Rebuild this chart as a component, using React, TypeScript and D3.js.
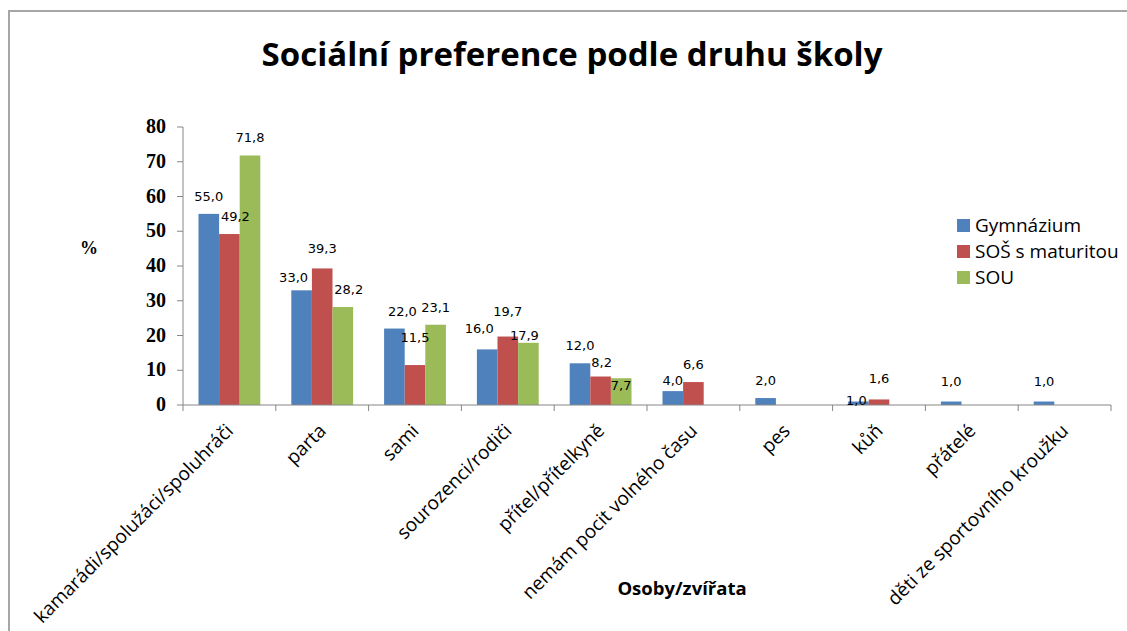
import React from "react";
import * as d3 from "d3";

const categories = [
  "kamarádi/spolužáci/spoluhráči",
  "parta",
  "sami",
  "sourozenci/rodiči",
  "přítel/přítelkyně",
  "nemám pocit volného času",
  "pes",
  "kůň",
  "přátelé",
  "děti ze sportovního kroužku",
];
const seriesNames = ["Gymnázium", "SOŠ s maturitou", "SOU"];
const gymnazium = [55.0, 33.0, 22.0, 16.0, 12.0, 4.0, 2.0, 1.0, 1.0, 1.0];
const sosMaturita: (number | null)[] = [49.2, 39.3, 11.5, 19.7, 8.2, 6.6, null, 1.6, null, null];
const sou: (number | null)[] = [71.8, 28.2, 23.1, 17.9, 7.7, null, null, null, null, null];
const yTicks = [0, 10, 20, 30, 40, 50, 60, 70, 80];
const colors = ["#4F81BD", "#C0504D", "#9BBB59"];

// label nudges (dx, dy) keyed "category index-series index" — mimic Excel's label placement
const labelNudge: Record<string, [number, number]> = {
  "0-1": [6, 0],
  "1-0": [-8, 5],
  "1-1": [0, -2],
  "1-2": [6, 0],
  "2-0": [8, 0],
  "2-1": [0, -10],
  "3-0": [-8, -3],
  "3-1": [0, -8],
  "3-2": [-4, 10],
  "4-1": [1, 3],
  "4-2": [0, 25],
  "5-0": [0, 7],
  "7-0": [-2, 16],
  "7-1": [0, -3],
  "8-0": [0, -3],
  "9-0": [0, -3],
};

const W = 1127;
const H = 631;
const left = 183;
const right = 1111;
const top = 127;
const bottom = 405;
const sans = "'Open Sans', Lato, sans-serif";

export default function App() {
  const x = d3.scaleBand<string>().domain(categories).range([left, right]).paddingInner(0).paddingOuter(0);
  const xs = d3
    .scaleBand<string>()
    .domain(seriesNames)
    .range([x.bandwidth() * 0.167, x.bandwidth() * 0.833])
    .padding(0);
  const y = d3.scaleLinear().domain([0, 80]).range([bottom, top]);
  const allSeries = [gymnazium, sosMaturita, sou];
  const fmt = (v: number) => v.toFixed(1).replace(".", ",");
  const axisColor = "#868686";

  return (
    <svg
      width={W}
      height={H}
      style={{ position: "absolute", left: 0, top: 0, background: "#fff" }}
      fontFamily={sans}
    >
      <rect x={0} y={0} width={W} height={H} fill="#fff" />
      <path d={`M9,${H} V11 H${W}`} fill="none" stroke="#a6a6a6" strokeWidth={2} />
      <text x={572} y={66} textAnchor="middle" fontSize={33} fontWeight={700} fill="#000">
        Sociální preference podle druhu školy
      </text>

      {/* y axis */}
      <line x1={left} x2={left} y1={top} y2={bottom} stroke={axisColor} />
      {yTicks.map((t) => (
        <g key={t}>
          <line x1={left - 6} x2={left} y1={y(t)} y2={y(t)} stroke={axisColor} />
          <text
            x={166}
            y={y(t) + 6}
            textAnchor="end"
            fontFamily="'Liberation Serif', serif"
            fontWeight={700}
            fontSize={20}
            fill="#000"
          >
            {t}
          </text>
        </g>
      ))}
      <text x={89} y={254} textAnchor="middle" fontFamily="'Liberation Serif', serif" fontWeight={700} fontSize={18}>
        %
      </text>

      {/* bars */}
      {categories.map((c, ci) => (
        <g key={c}>
          {allSeries.map((s, si) => {
            const v = s[ci];
            if (v == null) return null;
            const bx = (x(c) as number) + (xs(seriesNames[si]) as number);
            return (
              <rect
                key={si}
                x={bx}
                y={y(v)}
                width={xs.bandwidth()}
                height={bottom - y(v)}
                fill={colors[si]}
              />
            );
          })}
        </g>
      ))}

      {/* x axis */}
      <line x1={left} x2={right} y1={bottom} y2={bottom} stroke={axisColor} />
      {categories.map((c) => (
        <line
          key={c}
          x1={(x(c) as number) + x.bandwidth()}
          x2={(x(c) as number) + x.bandwidth()}
          y1={bottom}
          y2={bottom + 6}
          stroke={axisColor}
        />
      ))}
      <line x1={left} x2={left} y1={bottom} y2={bottom + 6} stroke={axisColor} />

      {/* data labels */}
      {categories.map((c, ci) =>
        allSeries.map((s, si) => {
          const v = s[ci];
          if (v == null) return null;
          const cx = (x(c) as number) + (xs(seriesNames[si]) as number) + xs.bandwidth() / 2;
          const n = labelNudge[`${ci}-${si}`] || [0, 0];
          return (
            <text
              key={`${ci}-${si}`}
              x={cx + n[0]}
              y={y(v) - 13 + n[1]}
              textAnchor="middle"
              fontFamily="'DejaVu Sans', Verdana, sans-serif"
              fontSize={13}
              fill="#000"
            >
              {fmt(v)}
            </text>
          );
        })
      )}

      {/* category labels */}
      {categories.map((c) => {
        const cx = (x(c) as number) + x.bandwidth() / 2 + 5;
        const cy = 432;
        return (
          <text
            key={c}
            x={cx}
            y={cy}
            textAnchor="end"
            transform={`rotate(-45 ${cx} ${cy})`}
            fontSize={19}
            fill="#000"
          >
            {c}
          </text>
        );
      })}

      <text x={682} y={595} textAnchor="middle" fontSize={18.5} fontWeight={700}>
        Osoby/zvířata
      </text>

      {/* legend */}
      {seriesNames.map((s, i) => (
        <g key={s} transform={`translate(957, ${219 + i * 26})`}>
          <rect x={0} y={0} width={13} height={13} fill={colors[i]} />
          <text x={18} y={13} fontSize={19} fill="#000">
            {s}
          </text>
        </g>
      ))}
    </svg>
  );
}
